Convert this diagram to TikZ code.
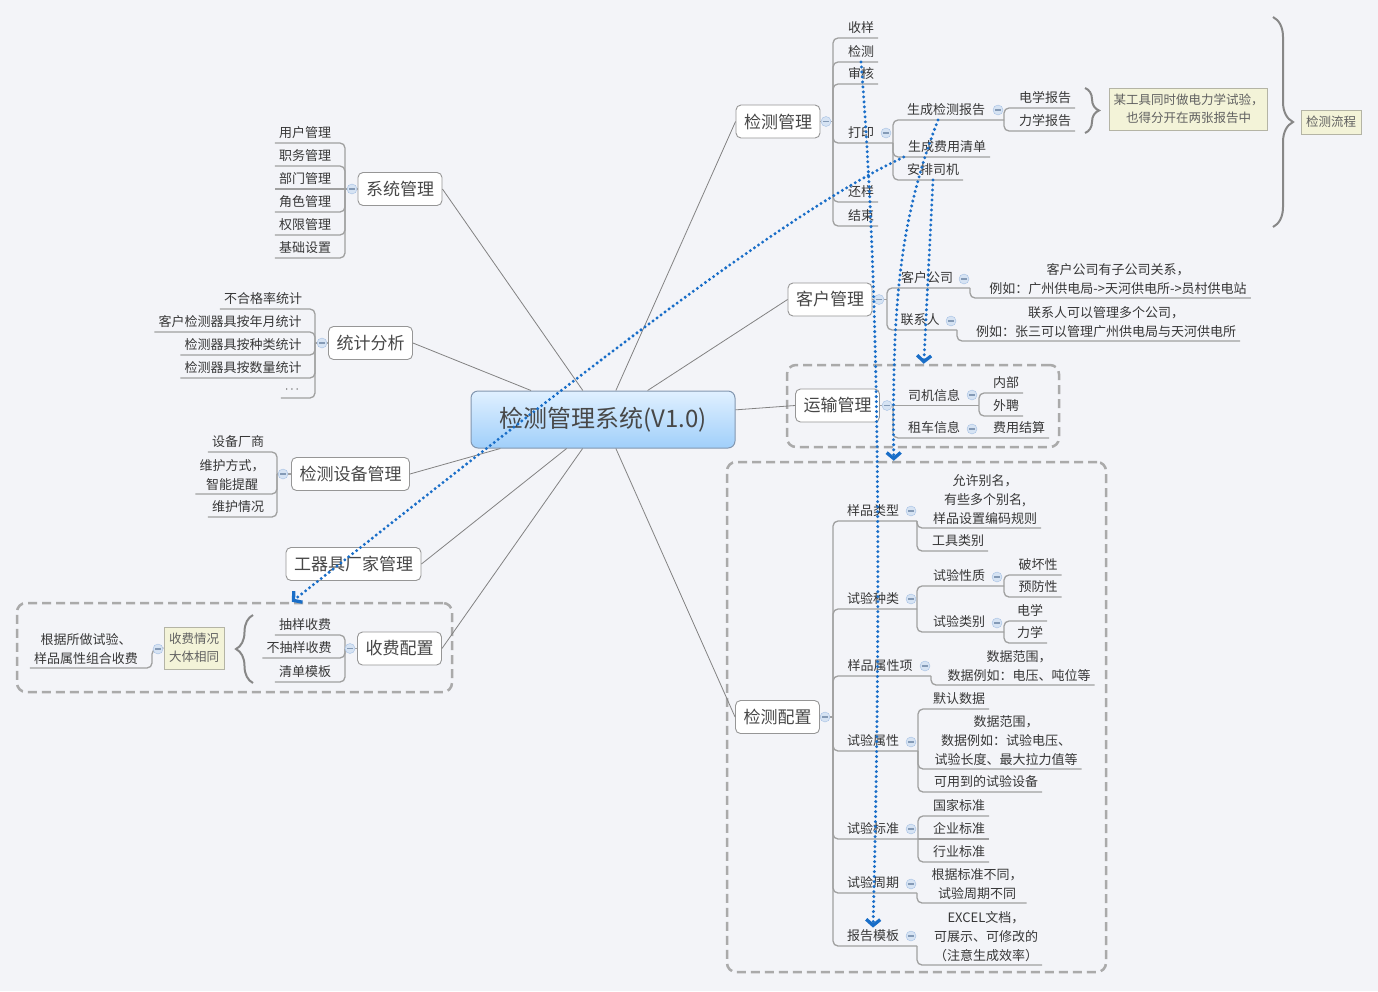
\documentclass[tikz,border=0pt]{standalone}
\usepackage{fontspec}
\setmainfont{Noto Sans CJK SC}
\usepackage{tikz}
\usetikzlibrary{arrows.meta,decorations.pathreplacing}

\definecolor{bgcol}{RGB}{243,244,248}
\definecolor{hubtop}{RGB}{224,240,255}
\definecolor{hubbot}{RGB}{160,207,250}
\definecolor{hubline}{RGB}{130,150,175}
\definecolor{boxline}{RGB}{150,150,150}
\definecolor{spokeline}{RGB}{130,130,130}
\definecolor{treeline}{RGB}{160,160,160}
\definecolor{foldfill}{RGB}{214,227,243}
\definecolor{foldline}{RGB}{165,192,228}
\definecolor{zoneline}{RGB}{170,170,170}
\definecolor{sumfill}{RGB}{243,243,216}
\definecolor{sumline}{RGB}{180,180,165}
\definecolor{braceline}{RGB}{135,135,135}
\definecolor{linkblue}{RGB}{25,110,200}
\definecolor{inkcol}{RGB}{55,55,55}

\tikzset{
  hub/.style={rectangle, rounded corners=7pt, draw=hubline, line width=1pt, top color=hubtop, bottom color=hubbot,
    minimum width=264pt, minimum height=57pt, font=\fontsize{24}{28}\selectfont, text=black!72},
  branch/.style={rectangle, rounded corners=5pt, draw=boxline, line width=0.9pt, fill=white, minimum height=33pt,
    inner xsep=8pt, font=\fontsize{17}{20}\selectfont, text=black!72},
  leaf/.style={anchor=south, inner xsep=4pt, inner ysep=3pt, text height=10pt, text depth=2pt,
    font=\fontsize{13}{19}\selectfont, text=inkcol},
  mleaf/.style={anchor=south, inner xsep=4pt, inner ysep=3pt, align=center,
    font=\fontsize{13}{19}\selectfont, text=inkcol},
  spoke/.style={draw=spokeline, line width=0.8pt},
  twig/.style={draw=treeline, line width=1.3pt, rounded corners=5pt},
  fold/.style={circle, draw=foldline, fill=foldfill, minimum size=10pt, inner sep=0pt,
    path picture={\draw[foldline!80!black, line width=1.1pt]
      ([xshift=-3pt]path picture bounding box.center) -- ([xshift=3pt]path picture bounding box.center);}},
  zone/.style={rectangle, draw=zoneline, dash pattern=on 9pt off 5pt, line width=2.5pt, rounded corners=9pt},
  sumbox/.style={rectangle, draw=sumline, fill=sumfill, line width=1pt, align=center, inner sep=4pt,
    font=\fontsize{12.5}{18}\selectfont, text=black!62},
  ubrace/.style={decorate, decoration={brace, amplitude=#1}, draw=braceline, line width=2pt},
  link/.style={draw=linkblue, line width=3.3pt, dash pattern=on 0pt off 5pt, line cap=round,
    -{Straight Barb[length=6pt, width=14pt]}}
}

\begin{document}
\begin{tikzpicture}[x=1pt,y=-1pt]
\path[use as bounding box, fill=bgcol] (0,0) rectangle (1378,991);

% dashed frames
\node[zone, minimum width=272pt, minimum height=82pt] (ysbox) at (923,406) {};
\node[zone, minimum width=379pt, minimum height=510pt] (pzbox) at (916.5,717) {};
\node[zone, minimum width=435pt, minimum height=89pt] (sfbox) at (234.5,647.5) {};

% centre and main branches
\node[hub] (hub) at (603,419.5) {检测管理系统(V1.0)};
\node[branch] (jcgl) at (778,121.5) {检测管理};
\node[branch] (khgl) at (830,299.5) {客户管理};
\node[branch] (ysgl) at (837.5,405.5) {运输管理};
\node[branch] (jcpz) at (777.5,717) {检测配置};
\node[branch] (xtgl) at (400,189) {系统管理};
\node[branch] (tjfx) at (370.5,343) {统计分析};
\node[branch] (sbgl) at (350.5,474) {检测设备管理};
\node[branch] (cjgl) at (353.5,564) {工器具厂家管理};
\node[branch] (sfpz) at (399.5,648.5) {收费配置};
\foreach \b in {jcgl,khgl,ysgl,jcpz}
  \draw[spoke] (hub) -- (\b.west);
\foreach \b in {xtgl,tjfx,sbgl,cjgl,sfpz}
  \draw[spoke] (hub) -- (\b.east);

% 检测管理
\coordinate (jcgl-j) at (833,121.5);
\draw[twig] (jcgl.east) -- (jcgl-j);
\node[leaf] (sy) at (861,38) {收样};
\node[leaf] (jc) at (861,62) {检测};
\node[leaf] (sh) at (861,84) {审核};
\node[leaf] (dy) at (861,143) {打印};
\node[leaf] (hy) at (861,202) {还样};
\node[leaf] (js) at (861,226) {结束};
\foreach \n in {sy,jc,sh,hy,js}
  \draw[twig] (jcgl-j) |- (\n.south east);
\coordinate (dy-j) at (893,143);
\draw[twig] (jcgl-j) |- (dy-j);
\node[leaf] (scbg) at (946,120) {生成检测报告};
\node[leaf] (scfy) at (947,157) {生成费用清单};
\node[leaf] (apsj) at (933,180) {安排司机};
\coordinate (scbg-j) at (1004,120);
\draw[twig] (dy-j) |- (scbg-j);
\foreach \n in {scfy,apsj}
  \draw[twig] (dy-j) |- (\n.south east);
\node[leaf] (dxbg) at (1045,108) {电学报告};
\node[leaf] (lxbg) at (1045,131) {力学报告};
\foreach \n in {dxbg,lxbg}
  \draw[twig] (scbg-j) |- (\n.south east);
\draw[ubrace=14pt] (1085,88) -- (1085,133);
\node[sumbox, minimum width=155pt, minimum height=42pt] (bgnote) at (1188.5,109) {某工具同时做电力学试验，\\也得分开在两张报告中};
\draw[ubrace=20pt] (1273,17) -- (1273,227);
\node[sumbox, minimum width=60pt, minimum height=24pt] (lcnote) at (1331,122) {检测流程};

% 客户管理
\coordinate (khgl-j) at (887,299.5);
\draw[twig] (khgl.east) -- (khgl-j);
\node[leaf] (khgs) at (927,288) {客户公司};
\node[leaf] (lxr) at (920,330) {联系人};
\coordinate (khgs-j) at (970,288);
\coordinate (lxr-j) at (957,330);
\draw[twig] (khgl-j) |- (khgs-j);
\draw[twig] (khgl-j) |- (lxr-j);
\node[mleaf] (khgs-n) at (1118,298) {客户公司有子公司关系，\\例如：广州供电局->天河供电所->员村供电站};
\node[mleaf] (lxr-n) at (1106,341) {联系人可以管理多个公司，\\例如：张三可以管理广州供电局与天河供电所};
\draw[twig] (khgs-j) |- (khgs-n.south east);
\draw[twig] (lxr-j) |- (lxr-n.south east);

% 运输管理
\coordinate (ysgl-j) at (893,405.5);
\draw[twig] (ysgl.east) -- (ysgl-j);
\node[leaf] (sjxx) at (934,405.5) {司机信息};
\coordinate (sjxx-j) at (979,405.5);
\draw[twig] (ysgl-j) -- (sjxx-j);
\node[leaf] (nb) at (1006,393) {内部};
\node[leaf] (wp) at (1006,416) {外聘};
\foreach \n in {nb,wp}
  \draw[twig] (sjxx-j) |- (\n.south east);
\node[leaf] (zcxx) at (934,438) {租车信息};
\node[leaf] (fyjs) at (1019,438) {费用结算};
\draw[twig] (ysgl-j) |- (fyjs.south east);

% 检测配置
\coordinate (jcpz-j) at (833,717);
\draw[twig] (jcpz.east) -- (jcpz-j);
\node[leaf] (yplx) at (873,521) {样品类型};
\node[leaf] (syzl) at (873,609) {试验种类};
\node[leaf] (ypsx) at (880,676) {样品属性项};
\node[leaf] (sysx) at (873,751) {试验属性};
\node[leaf] (sybz) at (873,839) {试验标准};
\node[leaf] (syzq) at (873,893) {试验周期};
\node[leaf] (bgmb) at (873,946) {报告模板};
\coordinate (yplx-j) at (917,521);
\coordinate (syzl-j) at (917,609);
\coordinate (ypsx-j) at (931,676);
\coordinate (sysx-j) at (918,751);
\coordinate (sybz-j) at (918,839);
\coordinate (syzq-j) at (917,893);
\coordinate (bgmb-j) at (917,946);
\foreach \n in {yplx,syzl,ypsx,sysx,sybz,syzq,bgmb}
  \draw[twig] (jcpz-j) |- (\n-j);
% 样品类型
\node[mleaf] (bm) at (985,528) {允许别名，\\有些多个别名,\\样品设置编码规则};
\node[leaf] (gjlb) at (958,551) {工具类别};
\foreach \n in {bm,gjlb}
  \draw[twig] (yplx-j) |- (\n.south east);
% 试验种类
\node[leaf] (syxz) at (959,586) {试验性质};
\node[leaf] (sylb) at (959,632) {试验类别};
\coordinate (syxz-j) at (1004,586);
\coordinate (sylb-j) at (1004,632);
\draw[twig] (syzl-j) |- (syxz-j);
\draw[twig] (syzl-j) |- (sylb-j);
\node[leaf] (phx) at (1038,575) {破坏性};
\node[leaf] (yfx) at (1038,597) {预防性};
\foreach \n in {phx,yfx}
  \draw[twig] (syxz-j) |- (\n.south east);
\node[leaf] (dx) at (1030,621) {电学};
\node[leaf] (lx) at (1030,643) {力学};
\foreach \n in {dx,lx}
  \draw[twig] (sylb-j) |- (\n.south east);
% 样品属性项
\node[mleaf] (sjfw1) at (1019,685) {数据范围，\\数据例如：电压、吨位等};
\draw[twig] (ypsx-j) |- (sjfw1.south east);
% 试验属性
\node[leaf] (mrsj) at (959,709) {默认数据};
\node[mleaf] (sjfw2) at (1006,769) {数据范围，\\数据例如：试验电压、\\试验长度、最大拉力值等};
\node[leaf] (sysb) at (986,792) {可用到的试验设备};
\foreach \n in {mrsj,sjfw2,sysb}
  \draw[twig] (sysx-j) |- (\n.south east);
% 试验标准
\node[leaf] (gjbz) at (959,816) {国家标准};
\node[leaf] (qybz) at (959,839) {企业标准};
\node[leaf] (hybz) at (959,862) {行业标准};
\foreach \n in {gjbz,hybz}
  \draw[twig] (sybz-j) |- (\n.south east);
\draw[twig] (sybz-j) -- (qybz.south east);
% 试验周期 / 报告模板
\node[mleaf] (zqbt) at (977,903) {根据标准不同，\\试验周期不同};
\draw[twig] (syzq-j) |- (zqbt.south east);
\node[mleaf] (excel) at (986,965) {EXCEL文档，\\可展示、可修改的\\（注意生成效率）};
\draw[twig] (bgmb-j) |- (excel.south east);

% 系统管理
\coordinate (xtgl-j) at (345,189);
\draw[twig] (xtgl.west) -- (xtgl-j);
\node[leaf] (yhgl) at (305,143) {用户管理};
\node[leaf] (zwgl) at (305,166) {职务管理};
\node[leaf] (bmgl) at (305,189) {部门管理};
\node[leaf] (jsgl) at (305,212) {角色管理};
\node[leaf] (qxgl) at (305,235) {权限管理};
\node[leaf] (jcsz) at (305,258) {基础设置};
\foreach \n in {yhgl,zwgl,jsgl,qxgl,jcsz}
  \draw[twig] (xtgl-j) |- (\n.south west);
\draw[twig] (xtgl-j) -- (bmgl.south west);

% 统计分析
\coordinate (tjfx-j) at (315,343);
\draw[twig] (tjfx.west) -- (tjfx-j);
\node[leaf] (bhgl) at (263,309) {不合格率统计};
\node[leaf] (nytj) at (230,332) {客户检测器具按年月统计};
\node[leaf] (zltj) at (243,355) {检测器具按种类统计};
\node[leaf] (sltj) at (243,378) {检测器具按数量统计};
\node[leaf] (more) at (292,398) {$\cdots$};
\foreach \n in {bhgl,nytj,zltj,sltj,more}
  \draw[twig] (tjfx-j) |- (\n.south west);

% 检测设备管理
\coordinate (sbgl-j) at (277,474);
\draw[twig] (sbgl.west) -- (sbgl-j);
\node[leaf] (sbcs) at (238,452) {设备厂商};
\node[mleaf] (whfs) at (232,494) {维护方式，\\智能提醒};
\node[leaf] (whqk) at (238,517) {维护情况};
\foreach \n in {sbcs,whfs,whqk}
  \draw[twig] (sbgl-j) |- (\n.south west);

% 收费配置
\coordinate (sfpz-j) at (345,648.5);
\draw[twig] (sfpz.west) -- (sfpz-j);
\node[leaf] (cysf) at (305,635) {抽样收费};
\node[leaf] (bcsf) at (299,658) {不抽样收费};
\node[leaf] (qdmb) at (305,682) {清单模板};
\foreach \n in {cysf,bcsf,qdmb}
  \draw[twig] (sfpz-j) |- (\n.south west);
\draw[ubrace=17pt] (253,683) -- (253,615);
\node[sumbox, minimum width=60pt, minimum height=42pt] (sfnote) at (194,648) {收费情况\\大体相同};
\coordinate (sfnote-j) at (152,649);
\node[mleaf] (zhsf) at (86,668) {根据所做试验、\\样品属性组合收费};
\draw[twig] (sfnote.west) -- (sfnote-j) |- (zhsf.south west);

% fold markers
\foreach \p in {(826,121.5),(886,133),(998,110),(879,299.5),(964,279),(951,321),
  (887,405.5),(972,395),(972,429),(825,717),(911,511),(911,599),(997,577),(997,623),
  (925,666),(911,742),(911,829),(911,884),(911,936),(352,189),(322,343),(283,474),
  (350,648.5),(158,649)}
  \node[fold] at \p {};

% cross links
\draw[link] (jc.south) .. controls (882,320) and (880,660) .. (bgmb.north);
\draw[link] ([xshift=-8pt]scbg.south) .. controls (900,220) and (892,300) .. ([xshift=168pt]pzbox.north west);
\draw[link] (scfy.south west) .. controls (780,215) and (560,390) .. ([xshift=276pt]sfbox.north west);
\draw[link] (apsj.south) -- ([xshift=138pt]ysbox.north west);
\end{tikzpicture}
\end{document}
